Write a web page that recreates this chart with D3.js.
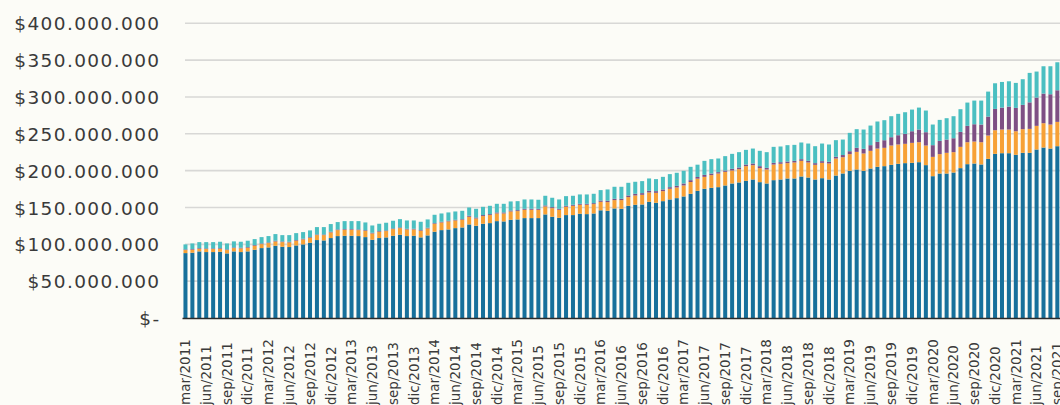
<!DOCTYPE html>
<html>
<head>
<meta charset="utf-8">
<script src="https://cdn.jsdelivr.net/npm/d3@7"></script>
<style>
  html, body { margin: 0; padding: 0; background: #fcfcf7; }
  svg { display: block; }
</style>
</head>
<body>
<svg id="chart" width="1060" height="405"></svg>
<script>
// ---- data (values in millions of $) ----
const monthNames = ["ene","feb","mar","abr","may","jun","jul","ago","sep","oct","nov","dic"];
const startYear = 2011, startMonth = 2, monthCount = 127; // mar/2011 .. sep/2021
const categories = d3.range(monthCount).map(i => {
  const m = startMonth + i;
  return monthNames[m % 12] + "/" + (startYear + Math.floor(m / 12));
});
const tickLabels = categories.filter((c, i) => i % 3 === 0);

const serieA = [88.1, 88.6, 90.4, 89.5, 89.5, 89.9, 87.7, 90.4, 89.5, 90.4,
  92.6, 94.9, 95.8, 98.1, 96.7, 96.3, 98.5, 99.9, 102.1, 105.8,
  105.3, 108.5, 111.2, 111.6, 111.6, 111.2, 109.8, 106.2, 108.5, 109.4,
  111.6, 113.0, 111.2, 111.6, 109.4, 112.1, 117.1, 119.3, 120.2, 122.0,
  122.9, 127.0, 125.2, 127.9, 128.8, 131.5, 131.1, 133.3, 133.8, 135.6,
  135.6, 135.6, 140.6, 137.4, 136.0, 139.7, 139.7, 141.5, 141.0, 141.9,
  146.2, 145.5, 148.7, 148.2, 152.3, 153.7, 154.1, 157.7, 156.4, 158.6,
  160.9, 162.7, 165.0, 168.6, 172.6, 175.4, 176.7, 177.6, 179.9, 182.6,
  184.0, 186.2, 188.0, 184.4, 182.6, 187.1, 188.0, 189.4, 189.4, 192.1,
  190.7, 188.0, 189.8, 188.0, 193.4, 196.2, 199.8, 201.6, 199.8, 202.9,
  205.2, 206.1, 207.9, 209.3, 210.2, 210.6, 211.5, 207.5, 192.5, 196.1,
  196.1, 197.5, 203.4, 208.8, 209.7, 208.4, 216.0, 222.8, 223.7, 223.7,
  221.5, 224.2, 224.2, 228.7, 231.4, 230.0, 233.2];

const serieB = [4.1, 4.1, 3.6, 4.1, 4.1, 4.1, 4.5, 4.5, 5.0, 5.0,
  5.5, 5.4, 5.9, 5.8, 6.3, 6.3, 6.4, 6.8, 6.8, 6.7,
  7.2, 7.7, 8.1, 8.2, 8.2, 8.1, 8.6, 8.6, 8.6, 8.6,
  9.1, 9.0, 9.0, 8.6, 9.0, 9.5, 10.8, 10.4, 10.9, 10.4,
  10.4, 10.4, 9.9, 10.4, 10.9, 10.4, 10.8, 11.3, 11.3, 11.3,
  11.3, 11.3, 10.8, 11.7, 10.9, 11.3, 12.6, 12.2, 12.7, 12.7,
  11.5, 11.8, 11.3, 11.8, 11.8, 12.6, 13.1, 12.7, 13.5, 13.6,
  14.5, 14.5, 14.9, 16.0, 16.5, 16.2, 17.2, 18.5, 18.5, 17.6,
  18.0, 19.9, 19.4, 19.0, 19.0, 21.2, 21.3, 20.8, 21.7, 21.2,
  20.4, 19.9, 20.8, 21.7, 23.1, 22.0, 22.6, 23.9, 23.5, 24.0,
  24.8, 24.9, 26.2, 26.2, 26.2, 27.1, 27.1, 26.6, 26.2, 26.3,
  28.1, 27.6, 28.9, 29.8, 29.8, 30.2, 31.7, 32.1, 32.1, 32.1,
  32.0, 32.1, 32.5, 32.1, 33.0, 32.6, 33.0];

const serieC = [0.9, 0.9, 0.9, 0.9, 0.9, 0.9, 0.9, 0.9, 0.9, 0.9,
  0.9, 0.9, 0.9, 1.0, 0.9, 0.9, 0.9, 0.9, 0.9, 0.9,
  0.9, 0.9, 0.9, 0.9, 0.9, 0.9, 0.9, 0.9, 0.9, 0.9,
  0.9, 1.0, 0.9, 0.9, 0.9, 0.9, 0.9, 0.9, 0.9, 0.9,
  0.9, 1.4, 1.4, 1.4, 1.3, 1.4, 1.4, 1.4, 1.3, 1.3,
  1.3, 1.3, 1.4, 1.4, 1.3, 1.3, 1.4, 1.3, 1.3, 1.3,
  1.8, 1.8, 1.8, 1.8, 2.2, 2.3, 2.3, 2.2, 2.3, 2.3,
  2.2, 2.2, 2.7, 2.5, 2.3, 2.7, 2.2, 1.9, 1.8, 2.3,
  2.3, 2.2, 2.3, 2.7, 2.2, 2.3, 2.2, 2.2, 2.2, 2.3,
  2.2, 2.3, 2.3, 2.3, 2.3, 3.0, 4.0, 5.5, 6.3, 7.7,
  9.1, 10.3, 11.3, 12.6, 13.5, 15.8, 17.2, 18.1, 15.9, 18.0,
  18.0, 18.9, 20.3, 22.2, 23.5, 24.0, 25.7, 28.9, 29.8, 31.2,
  31.7, 33.0, 36.0, 38.4, 40.2, 41.1, 42.9];

const serieD = [6.8, 7.6, 8.1, 8.5, 8.5, 8.6, 8.1, 8.2, 8.1, 8.6,
  8.1, 8.6, 8.6, 9.0, 8.6, 9.0, 9.4, 9.0, 9.1, 10.0,
  10.0, 10.4, 10.0, 10.8, 10.8, 11.3, 10.4, 9.9, 9.9, 10.4,
  10.4, 11.2, 11.3, 11.3, 11.3, 11.3, 11.3, 11.3, 11.3, 11.3,
  11.3, 11.2, 11.7, 11.2, 11.3, 11.7, 11.7, 12.2, 12.2, 12.7,
  12.7, 12.3, 13.1, 12.7, 12.7, 13.1, 12.2, 12.7, 12.7, 12.7,
  14.1, 15.4, 16.3, 16.3, 17.2, 16.3, 16.3, 16.8, 16.3, 17.1,
  17.7, 17.7, 17.2, 18.1, 16.7, 19.0, 19.5, 18.5, 19.5, 20.3,
  20.8, 19.9, 20.3, 20.8, 21.3, 21.7, 21.3, 22.2, 21.7, 22.6,
  23.5, 23.0, 23.9, 23.5, 22.6, 21.0, 24.9, 25.3, 26.2, 26.6,
  27.6, 27.2, 28.5, 29.0, 29.4, 29.4, 29.8, 29.4, 28.0, 28.5,
  29.0, 29.9, 30.8, 31.6, 32.1, 32.5, 33.9, 34.8, 34.8, 34.3,
  33.9, 34.8, 40.0, 35.3, 37.1, 38.0, 38.0];

const seriesKeys = ["serieA", "serieB", "serieC", "serieD"];
const seriesColors = ["#17709b", "#f7a136", "#7e4f84", "#4bbfc1"];
const yTicks = [0, 50, 100, 150, 200, 250, 300, 350, 400];
const yTickLabels = ["$-", "$50.000.000", "$100.000.000", "$150.000.000", "$200.000.000",
  "$250.000.000", "$300.000.000", "$350.000.000", "$400.000.000"];

// ---- build table ----
const rows = categories.map((c, i) => ({
  month: c, serieA: serieA[i], serieB: serieB[i], serieC: serieC[i], serieD: serieD[i]
}));
const stacked = d3.stack().keys(seriesKeys)(rows);

// ---- layout ----
const svg = d3.select("#chart");
const x0 = 182, x1 = 1060.8;
const yTop = 23.3, yBase = 318;

const x = d3.scaleBand().domain(categories).range([x0, x1])
  .paddingInner(0.42).paddingOuter(0.21);
const y = d3.scaleLinear().domain([0, 400]).range([yBase, yTop]);

// gridlines
svg.append("g").selectAll("line")
  .data(yTicks.filter(d => d > 0))
  .join("line")
  .attr("x1", 185).attr("x2", 1060)
  .attr("y1", d => y(d)).attr("y2", d => y(d))
  .attr("stroke", "#d8d8d6").attr("stroke-width", 1.6);

// bars
svg.append("g").selectAll("g")
  .data(stacked)
  .join("g")
  .attr("fill", (d, i) => seriesColors[i])
  .selectAll("rect")
  .data(d => d)
  .join("rect")
  .attr("x", d => x(d.data.month))
  .attr("width", x.bandwidth())
  .attr("y", d => y(d[1]))
  .attr("height", d => Math.max(0, y(d[0]) - y(d[1])));

// y axis
const yAxis = svg.append("g")
  .attr("transform", `translate(185,0)`)
  .call(d3.axisLeft(y).tickValues(yTicks).tickFormat((d, i) => yTickLabels[i]).tickSize(0).tickPadding(24.5));
yAxis.select(".domain").remove();
yAxis.selectAll("text")
  .attr("font-family", "'DejaVu Sans', sans-serif")
  .attr("font-size", "18.5px")
  .attr("letter-spacing", "1.4px")
  .attr("fill", "#3a3a3a")
  .attr("dy", "0.36em");

// x axis
const xAxis = svg.append("g")
  .attr("transform", `translate(0,${yBase})`)
  .call(d3.axisBottom(x).tickValues(tickLabels).tickSize(0).tickSizeOuter(0));
xAxis.select(".domain").attr("stroke", "#2b2b2b").attr("stroke-width", 1.6);
xAxis.selectAll("text")
  .attr("font-family", "'DejaVu Sans', sans-serif")
  .attr("font-size", "13.5px")
  .attr("fill", "#3a3a3a")
  .attr("text-anchor", "start")
  .attr("x", 0).attr("y", 0).attr("dy", "0.35em")
  .attr("transform", "translate(0,87) rotate(-90)");
</script>
</body>
</html>
